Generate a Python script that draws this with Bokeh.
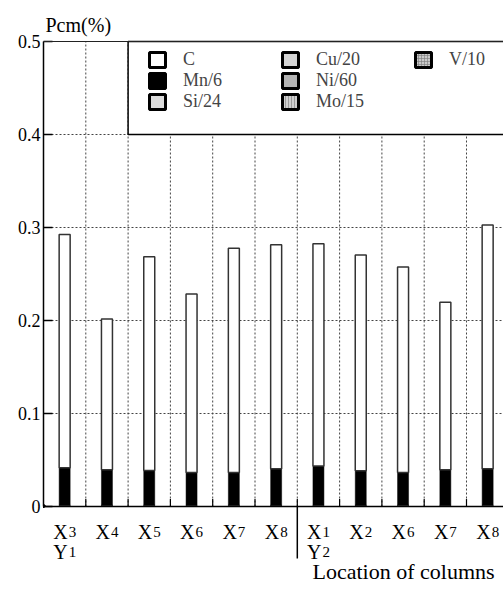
import numpy as np
from bokeh.plotting import figure
from bokeh.models import Range1d, FixedTicker, Span, Legend, LegendItem, ColumnDataSource
from bokeh.core.properties import value
from bokeh.embed import file_html
from bokeh.resources import INLINE

# ---------------- data ----------------
columns = ["X3", "X4", "X5", "X6", "X7", "X8", "X1", "X2", "X6", "X7", "X8"]
groups = ["Y1", "Y2"]
group_start = [0, 6]          # index of first column of each group
x_title = "Location of columns"
y_title = "Pcm(%)"
y_ticks = [0, 0.1, 0.2, 0.3, 0.4, 0.5]

series_names = ["C", "Mn/6", "Si/24", "Cu/20", "Ni/60", "Mo/15", "V/10"]
c_vals  = [0.251, 0.162, 0.230, 0.192, 0.241, 0.241, 0.239, 0.232, 0.221, 0.180, 0.262]
mn6     = [0.040, 0.038, 0.037, 0.035, 0.035, 0.039, 0.042, 0.037, 0.035, 0.038, 0.039]
si24    = [0.0006, 0.0005, 0.0006, 0.0005, 0.0006, 0.0005, 0.0006, 0.0005, 0.0006, 0.0005, 0.0006]
cu20    = [0.0003, 0.0003, 0.0003, 0.0003, 0.0003, 0.0003, 0.0003, 0.0003, 0.0003, 0.0003, 0.0003]
ni60    = [0.0002, 0.0002, 0.0002, 0.0002, 0.0002, 0.0002, 0.0002, 0.0002, 0.0002, 0.0002, 0.0002]
mo15    = [0.0002, 0.0002, 0.0002, 0.0002, 0.0002, 0.0002, 0.0002, 0.0002, 0.0002, 0.0002, 0.0002]
v10     = [0.0003, 0.0003, 0.0003, 0.0003, 0.0003, 0.0003, 0.0003, 0.0003, 0.0003, 0.0003, 0.0003]

values = {"C": c_vals, "Mn/6": mn6, "Si/24": si24, "Cu/20": cu20,
          "Ni/60": ni60, "Mo/15": mo15, "V/10": v10}

# ---------------- styles ----------------
FONT = "Liberation Serif"
styles = {
    "C":     dict(fill_color="white",   hatch_pattern=None),
    "Mn/6":  dict(fill_color="black",   hatch_pattern=None),
    "Si/24": dict(fill_color="#dcdcdc", hatch_pattern=None),
    "Cu/20": dict(fill_color="#d4d4d4", hatch_pattern=None),
    "Ni/60": dict(fill_color="#b4b4b4", hatch_pattern=None),
    "Mo/15": dict(fill_color="#d0d0d0", hatch_pattern="|"),
    "V/10":  dict(fill_color="#c8c8c8", hatch_pattern="+"),
}
stack_order = ["V/10", "Mo/15", "Ni/60", "Cu/20", "Si/24", "Mn/6", "C"]

n = len(columns)
cell_px = 42.3
left_px = 43
W, H = 503, 589
zero_px = 506          # canvas y of value 0
px_per_unit = 930.0
y_start = -(H - zero_px) / px_per_unit
y_end = zero_px / px_per_unit

def ypx(canvas_y):
    return (zero_px - canvas_y) / px_per_unit

p = figure(width=W, height=H, output_backend="svg", toolbar_location=None,
           x_range=Range1d(0, (W - left_px) / cell_px),
           y_range=Range1d(y_start, y_end),
           min_border_left=left_px, min_border_right=0,
           min_border_top=0, min_border_bottom=0)
p.outline_line_color = None
p.background_fill_color = "white"
p.border_fill_color = "white"
p.xaxis.visible = False

# y axis
yax = p.yaxis[0]
yax.bounds = (0, 0.5)
yax.ticker = FixedTicker(ticks=y_ticks)
yax.minor_tick_line_color = None
yax.major_tick_in = 9
yax.major_tick_out = 0
yax.axis_line_width = 1.5
yax.major_tick_line_width = 1.5
yax.axis_line_color = "black"
yax.major_label_text_font = FONT
yax.major_label_text_font_size = "18px"
yax.major_label_text_color = "black"
yax.major_label_standoff = 3
yax.major_label_overrides = {0: "0"}

# horizontal dotted grid
p.xgrid.visible = False
p.ygrid.ticker = FixedTicker(ticks=y_ticks[1:-1])
p.ygrid.grid_line_color = "#444444"
p.ygrid.grid_line_dash = "2 2"
p.ygrid.grid_line_width = 1

# vertical dotted grid lines between columns (0 .. 0.5)
bounds_x = list(range(1, n))
p.segment(x0=bounds_x, y0=[0] * len(bounds_x), x1=bounds_x, y1=[0.5] * len(bounds_x),
          line_color="#444444", line_dash="2 2", line_width=1)
# small inward ticks at bottom of column boundaries
p.segment(x0=bounds_x, y0=[0] * len(bounds_x), x1=bounds_x, y1=[0.008] * len(bounds_x),
          line_color="black", line_width=1.2)

# stacked bars
xc = np.arange(n) + 0.5
bottom = np.zeros(n)
bar_w = 0.26
for name in stack_order:
    v = np.array(values[name])
    st = styles[name]
    kw = dict(fill_color=st["fill_color"], line_color="#333333" if name == "C" else "black",
              line_width=1.5 if name == "C" else 0.5)
    if st["hatch_pattern"]:
        kw.update(hatch_pattern=st["hatch_pattern"], hatch_color="#777777", hatch_scale=3, hatch_weight=0.6)
    src = ColumnDataSource(dict(x=xc, bottom=bottom, top=bottom + v))
    p.vbar(x="x", bottom="bottom", top="top", width=bar_w, source=src, **kw)
    bottom = bottom + v

# axes lines
p.add_layout(Span(location=0, dimension="width", line_color="black", line_width=1.5))
p.add_layout(Span(location=0.5, dimension="width", line_color="#222222", line_width=1))

# legend box (white, from column boundary 2 to right, 0.4 .. 0.5)
p.quad(left=[2], right=[n + 1], bottom=[0.4], top=[0.5], fill_color="white",
       line_color="black", line_width=1.5)

# legend entries (off-range proxy renderers with thick outline)
items = []
for name in series_names:
    st = styles[name]
    kw = dict(fill_color=st["fill_color"], line_color="black", line_width=3)
    if st["hatch_pattern"]:
        kw.update(hatch_pattern=st["hatch_pattern"], hatch_color="#777777", hatch_scale=3, hatch_weight=0.6)
    r = p.vbar(x=[-100], bottom=[0], top=[0.001], width=bar_w, **kw)
    items.append(LegendItem(label=name, renderers=[r]))

legend = Legend(items=items, orientation="vertical", nrows=3,
                location=(104, H - 112), padding=0, margin=0, spacing=0,
                glyph_width=20, glyph_height=19, label_standoff=16,
                label_width=97, label_height=17,
                label_text_font=FONT, label_text_font_size="18px",
                border_line_color=None, background_fill_alpha=0)
p.add_layout(legend, "center")

# x category labels with subscripts
lab_main = [c[0] for c in columns]
lab_sub = [c[1:] for c in columns]
y_lab = ypx(531)
p.text(x=xc, y=[y_lab] * n, text=lab_main, text_align="right", text_baseline="alphabetic",
       x_offset=3, text_font=value(FONT), text_font_size="20px", text_color="black")
p.text(x=xc, y=[y_lab] * n, text=lab_sub, text_align="left", text_baseline="alphabetic",
       x_offset=4, text_font=value(FONT), text_font_size="15px", text_color="black")

# group labels
gx = xc[group_start]
y_grp = ypx(551)
p.text(x=gx, y=[y_grp] * len(groups), text=[g[0] for g in groups], text_align="right",
       text_baseline="alphabetic", x_offset=3, text_font=value(FONT), text_font_size="20px",
       text_color="black")
p.text(x=gx, y=[y_grp] * len(groups), text=[g[1:] for g in groups], text_align="left",
       text_baseline="alphabetic", x_offset=4, text_font=value(FONT), text_font_size="15px",
       text_color="black")

# group separator below axis
sep_x = group_start[1]
p.segment(x0=[sep_x], y0=[0], x1=[sep_x], y1=[ypx(558)],
          line_color="black", line_width=1.5)

# axis titles
p.text(x=[(312 - left_px) / cell_px], y=[ypx(571)], text=[x_title],
       text_align="left", text_baseline="alphabetic", text_font=value(FONT),
       text_font_size="22px", text_color="black")
p.text(x=[(45 - left_px) / cell_px], y=[ypx(24)], text=[y_title],
       text_align="left", text_baseline="alphabetic", text_font=value(FONT),
       text_font_size="20px", text_color="black")

open("out.html", "w").write(file_html(p, INLINE))
